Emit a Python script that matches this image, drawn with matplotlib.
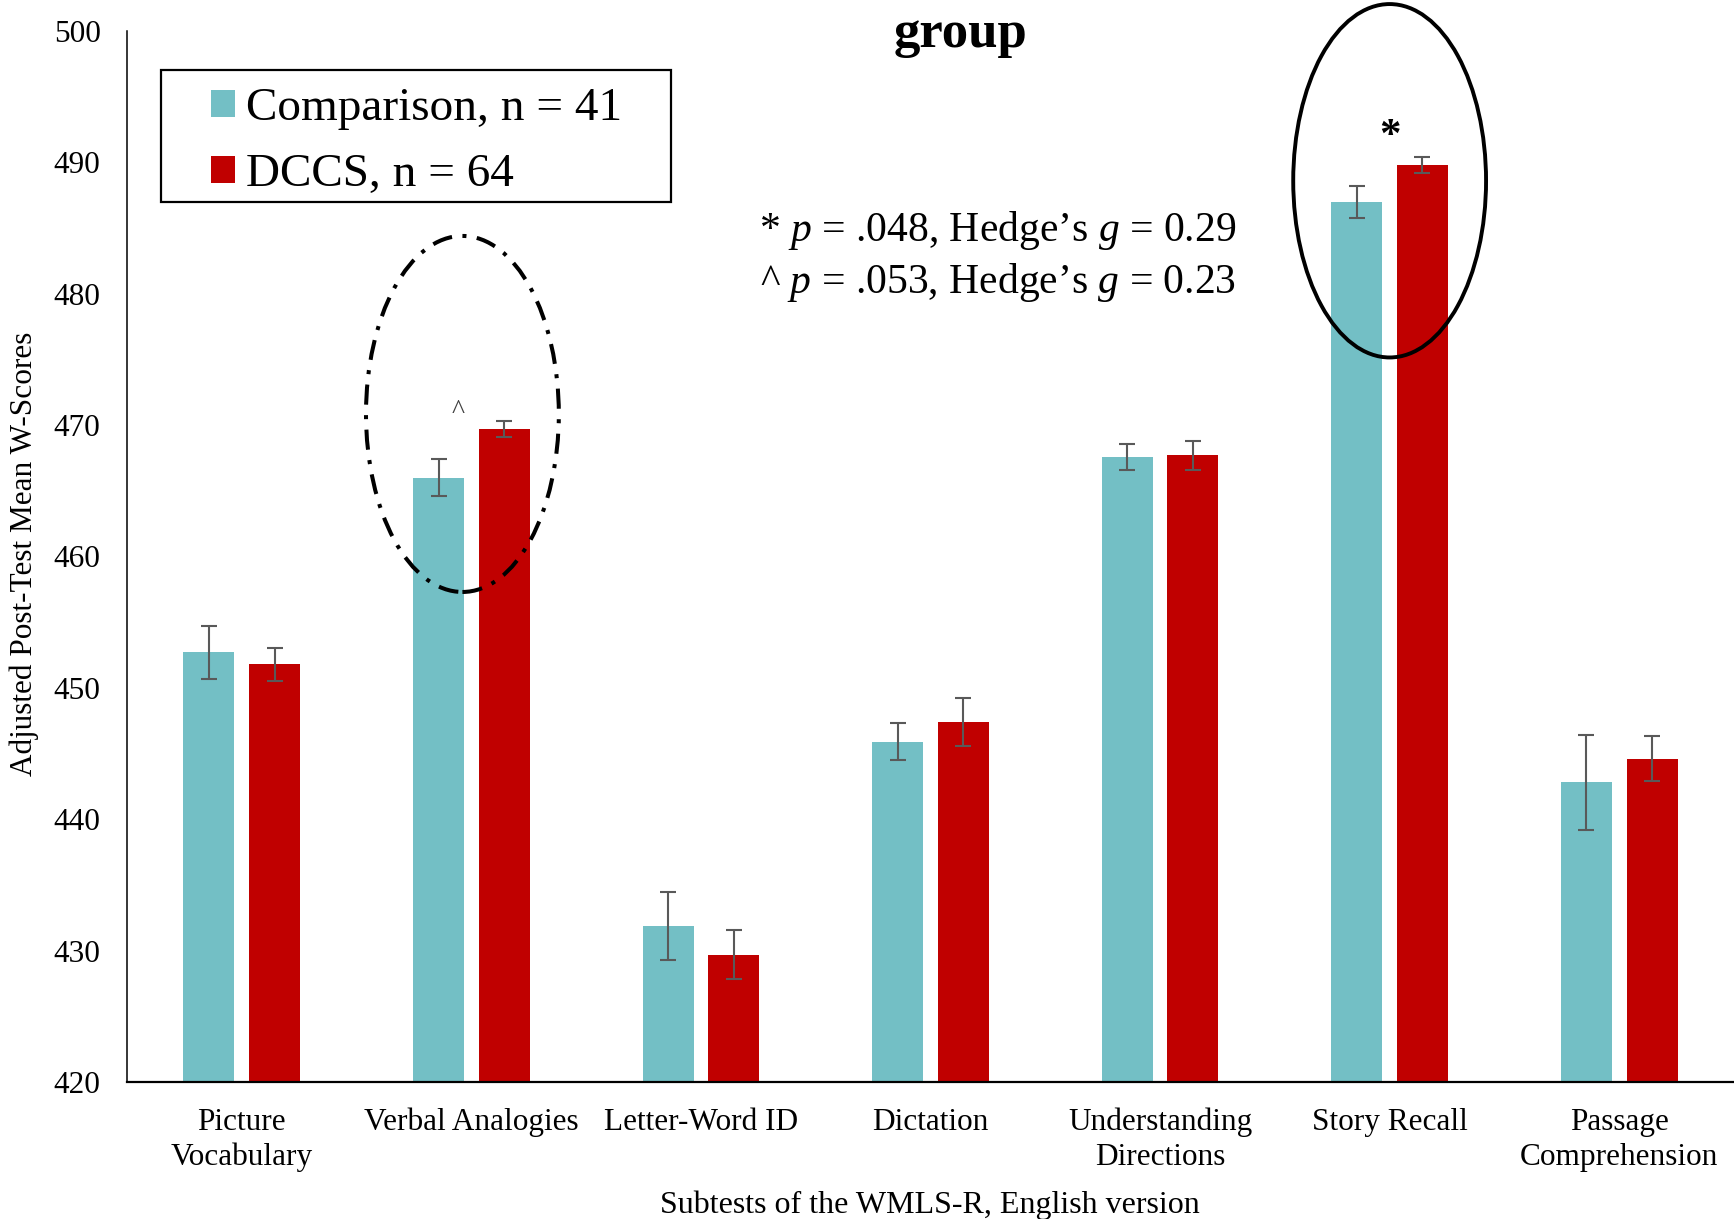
import matplotlib
matplotlib.use("Agg")
import matplotlib.pyplot as plt
from matplotlib.patches import Ellipse, Rectangle
import numpy as np

plt.rcParams['font.family'] = ['Liberation Serif', 'DejaVu Serif']
plt.rcParams['mathtext.fontset'] = 'custom'
plt.rcParams['mathtext.rm'] = 'Liberation Serif'
plt.rcParams['mathtext.it'] = 'Liberation Serif:italic'

categories = ["Picture\nVocabulary", "Verbal Analogies", "Letter-Word ID", "Dictation",
              "Understanding\nDirections", "Story Recall", "Passage\nComprehension"]
comparison = [452.7, 466.0, 431.9, 445.9, 467.6, 487.0, 442.8]
comparison_err = [2.0, 1.4, 2.6, 1.4, 1.0, 1.2, 3.6]
dccs = [451.8, 469.7, 429.7, 447.4, 467.7, 489.8, 444.6]
dccs_err = [1.25, 0.6, 1.85, 1.85, 1.1, 0.6, 1.7]
yticks = [420, 430, 440, 450, 460, 470, 480, 490, 500]

TEAL = "#73BFC5"
RED = "#C00000"
ERR = "#595959"

W, H = 1734, 1219
fig = plt.figure(figsize=(W / 100, H / 100), dpi=100)
ax = fig.add_axes([127 / W, 1 - 1082 / H, 1 - 127 / W, (1082 - 31) / H])

x = np.arange(len(categories))
bw = 0.222
off = 0.143
b1 = ax.bar(x - off, comparison, bw, color=TEAL, label="Comparison, n = 41", zorder=2)
b2 = ax.bar(x + off, dccs, bw, color=RED, label="DCCS, n = 64", zorder=2)
ax.errorbar(x - off, comparison, yerr=comparison_err, fmt='none', ecolor=ERR,
            elinewidth=1.5, capsize=5.8, capthick=1.5, zorder=3)
ax.errorbar(x + off, dccs, yerr=dccs_err, fmt='none', ecolor=ERR,
            elinewidth=1.5, capsize=5.8, capthick=1.5, zorder=3)

ax.set_xlim(-0.5, len(categories) - 0.5)
ax.set_ylim(420, 500)
ax.set_yticks(yticks)
ax.set_yticklabels([str(t) for t in yticks], fontsize=22.5)
ax.set_xticks(x)
ax.set_xticklabels(categories, fontsize=22.5, linespacing=1.27)
ax.tick_params(axis='y', length=0, pad=19)
ax.tick_params(axis='x', length=0, pad=18.5)

for s in ['top', 'right']:
    ax.spines[s].set_visible(False)
ax.spines['left'].set_linewidth(1.1)
ax.spines['bottom'].set_linewidth(1.6)

# ellipses
ax.add_patch(Ellipse((5.0, 488.6), 0.84, 26.9, fill=False, edgecolor='black',
                     linewidth=2.8, clip_on=False, zorder=4))
ax.add_patch(Ellipse((0.961, 470.85), 0.84, 27.1, fill=False, edgecolor='black',
                     linewidth=2.9, linestyle=(0, (5, 2.6, 1, 2.6)), clip_on=False, zorder=4))

ax.text(0.942, 471.0, "^", fontsize=20, color="#404040", ha='center', va='center')
ax.text(5.0, 491.9, "*", fontsize=31, fontweight='bold', color='black', ha='center', va='center')

# legend
fig.patches.append(Rectangle((161 / W, 1 - 202 / H), (671 - 161) / W, (202 - 70) / H,
                             transform=fig.transFigure, fill=False, edgecolor='black',
                             linewidth=1.6, zorder=5))
ax.legend(handles=[b1, b2], loc='upper left', bbox_to_anchor=(211 / W, 1 - 88 / H),
          bbox_transform=fig.transFigure, frameon=False, fontsize=34,
          handlelength=0.5, handleheight=0.5, handletextpad=0.25,
          labelspacing=0.49, borderpad=0, borderaxespad=0)

fig.text(960 / W, 1 - 47 / H, "group", fontsize=38, fontweight='bold', ha='center', va='baseline')
fig.text(998 / W, 1 - 241 / H, "* $p$ = .048, Hedge’s $g$ = 0.29", fontsize=30,
         ha='center', va='baseline')
fig.text(998 / W, 1 - 293 / H, "^ $p$ = .053, Hedge’s $g$ = 0.23", fontsize=30,
         ha='center', va='baseline')

fig.text(24 / W, 1 - 554 / H, "Adjusted Post-Test Mean W-Scores", fontsize=22.5,
         rotation=90, ha='center', va='center')
fig.text(930 / W, 1 - 1213 / H, "Subtests of the WMLS-R, English version", fontsize=23,
         ha='center', va='baseline')

fig.savefig("out.png", dpi=100)
